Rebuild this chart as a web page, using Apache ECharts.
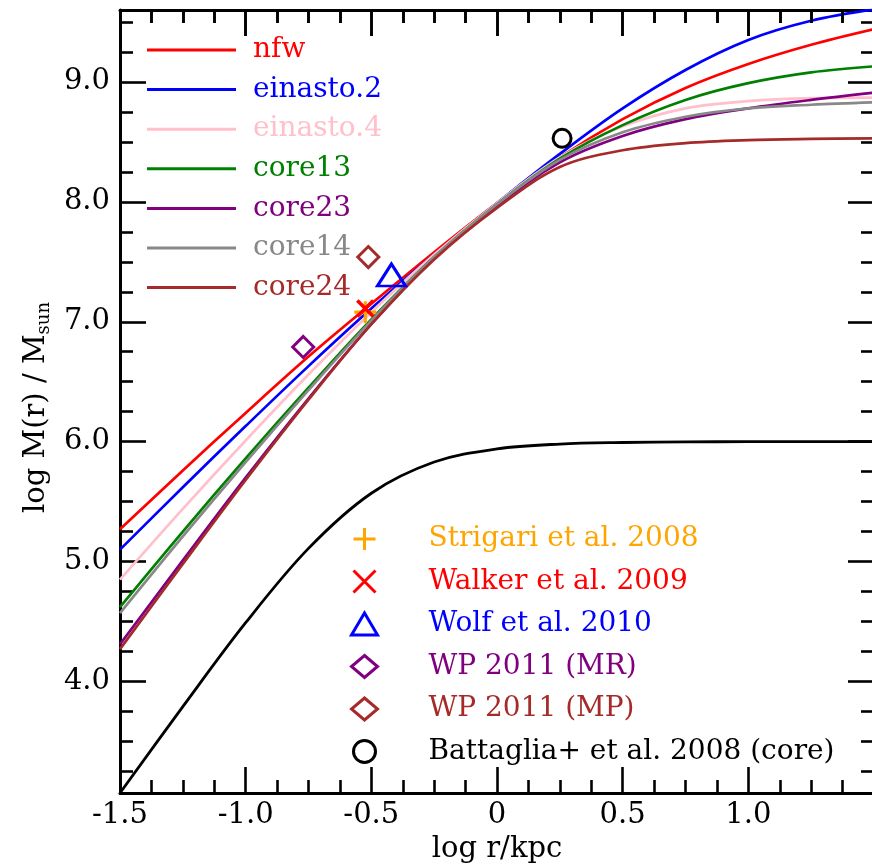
<!DOCTYPE html>
<html>
<head>
<meta charset="utf-8">
<script src="https://cdn.jsdelivr.net/npm/echarts@6/dist/echarts.min.js"></script>
<style>
  html, body { margin: 0; padding: 0; background: #fff; }
  #chart { width: 872px; height: 865px; }
</style>
</head>
<body>
<div id="chart"></div>
<script>
// Sample radii, log r / kpc
const logR = [-1.5, -1.25, -1.0, -0.75, -0.5, -0.25, 0.0, 0.25, 0.5, 0.75, 1.0, 1.25, 1.5];

// Enclosed mass profiles, log M(r) / Msun, one value per radius above
const nfw       = [5.27, 5.76, 6.24, 6.71, 7.15, 7.58, 7.99, 8.37, 8.69, 8.95, 9.15, 9.31, 9.44];
const einasto2  = [5.10, 5.62, 6.13, 6.63, 7.11, 7.56, 7.99, 8.40, 8.78, 9.10, 9.35, 9.51, 9.605];
const einasto4  = [4.85, 5.44, 6.01, 6.56, 7.08, 7.56, 7.99, 8.37, 8.63, 8.78, 8.84, 8.865, 8.87];
const core13    = [4.62, 5.25, 5.86, 6.45, 7.02, 7.54, 7.98, 8.36, 8.64, 8.85, 8.99, 9.08, 9.13];
const core23    = [4.31, 5.01, 5.70, 6.36, 6.98, 7.53, 7.97, 8.33, 8.55, 8.69, 8.78, 8.85, 8.91];
const core14    = [4.57, 5.21, 5.83, 6.43, 7.01, 7.54, 7.98, 8.35, 8.58, 8.71, 8.78, 8.81, 8.83];
const core24    = [4.27, 4.98, 5.68, 6.35, 6.98, 7.52, 7.95, 8.29, 8.43, 8.49, 8.515, 8.525, 8.53];
// Stellar component
const stars     = [3.07, 3.79, 4.49, 5.11, 5.57, 5.83, 5.94, 5.98, 5.993, 5.998, 6.0, 6.0, 6.0];

// Published mass estimates [log r, log M]
const strigari2008  = [[-0.524, 7.08]];
const walker2009    = [[-0.524, 7.11]];
const wolf2010      = [[-0.42, 7.39]];
const wp2011MR      = [[-0.771, 6.79]];
const wp2011MP      = [[-0.512, 7.54]];
const battaglia2008 = [[0.259, 8.53]];

// Axis ranges and tick values
const xRange = { min: -1.5, max: 1.5, interval: 0.5 };
const yRange = { min: 3.07, max: 9.6 };
const xMajor = [-1.0, -0.5, 0, 0.5, 1.0];
const xMinor = [-1.375, -1.25, -1.125, -0.875, -0.75, -0.625, -0.375, -0.25, -0.125,
                0.125, 0.25, 0.375, 0.625, 0.75, 0.875, 1.125, 1.25, 1.375];
const yMajor = [4, 5, 6, 7, 8, 9];
const yMinor = [3.25, 3.5, 3.75, 4.25, 4.5, 4.75, 5.25, 5.5, 5.75, 6.25, 6.5, 6.75,
                7.25, 7.5, 7.75, 8.25, 8.5, 8.75, 9.25, 9.5];

const FONT = 'DejaVu Serif';
const FS = 29;
const PLOT = { left: 120, top: 10, width: 754, height: 783, containLabel: false, outerBoundsMode: 'none' };
const PX_PER_Y = PLOT.height / (yRange.max - yRange.min);

function pairs(ys) { return logR.map((x, i) => [x, ys[i]]); }
function clone(o) { return JSON.parse(JSON.stringify(o)); }

const profiles = [
  { name: 'nfw',       data: nfw,      color: '#ff0000' },
  { name: 'einasto.2', data: einasto2, color: '#0000ff' },
  { name: 'einasto.4', data: einasto4, color: '#ffc0cb' },
  { name: 'core13',    data: core13,   color: '#008000' },
  { name: 'core23',    data: core23,   color: '#800080' },
  { name: 'core14',    data: core14,   color: '#888888' },
  { name: 'core24',    data: core24,   color: '#a52a2a' }
];

const plusPath  = 'path://M0,10 L20,10 M10,0 L10,20';
const crossPath = 'path://M0,0 L10,10 M10,0 L0,10';

const points = [
  { name: 'Strigari et al. 2008', data: strigari2008, color: '#ffa500', symbol: plusPath, size: 22, bw: 3.2 },
  { name: 'Walker et al. 2009', data: walker2009, color: '#ff0000', symbol: crossPath, size: 16, bw: 3.6 },
  { name: 'Wolf et al. 2010', data: wolf2010, color: '#0000ff', symbol: 'triangle', size: [28, 22], bw: 3 },
  { name: 'WP 2011 (MR)', data: wp2011MR, color: '#800080', symbol: 'diamond', size: [21, 21], bw: 3 },
  { name: 'WP 2011 (MP)', data: wp2011MP, color: '#a52a2a', symbol: 'diamond', size: [21, 21], bw: 3 },
  { name: 'Battaglia+ et al. 2008 (core)', data: battaglia2008, color: '#000000', symbol: 'circle', size: 18, bw: 3 }
];

// Short ticks hanging from the top frame edge, as markLine segments in axis units
function topTickSegments(vals, lenPx) {
  const top = yRange.max, bottom = yRange.max - lenPx / PX_PER_Y;
  return vals.map(v => [{ coord: [v, top] }, { coord: [v, bottom] }]);
}

const series = [];
profiles.forEach(p => series.push({
  name: p.name, type: 'line', data: pairs(p.data), smooth: 0.35,
  showSymbol: false, symbol: 'none', z: 3,
  lineStyle: { color: p.color, width: 2.7 }, itemStyle: { color: p.color }
}));
series.push({
  name: 'stars', type: 'line', data: pairs(stars), smooth: 0.35,
  showSymbol: false, symbol: 'none', z: 3,
  lineStyle: { color: '#000', width: 2.8 }, itemStyle: { color: '#000' },
  markLine: {
    silent: true, symbol: ['none', 'none'], animation: false,
    label: { show: false },
    lineStyle: { color: '#000', width: 2.6, type: 'solid' },
    emphasis: { disabled: true },
    data: topTickSegments(xMajor, 26).concat(topTickSegments(xMinor, 13))
  }
});
points.forEach(p => series.push({
  name: p.name, type: 'scatter', data: p.data, symbol: p.symbol, symbolSize: p.size, z: 5,
  itemStyle: { color: 'rgba(0,0,0,0)', borderColor: p.color, borderWidth: p.bw, opacity: 1 }
}));

const LINE = { color: '#000', width: 2.6 };

function xAxisDef(pos, labels) {
  return {
    type: 'value', gridIndex: 0, position: pos,
    min: xRange.min, max: xRange.max, interval: xRange.interval,
    axisLine: { show: true, onZero: false, lineStyle: { color: '#000', width: 3 } },
    axisTick: { show: true, inside: true, length: 26, lineStyle: clone(LINE) },
    minorTick: { show: true, splitNumber: 4, length: 13, lineStyle: clone(LINE) },
    splitLine: { show: false }, minorSplitLine: { show: false },
    axisLabel: {
      show: labels, fontFamily: FONT, fontSize: FS, margin: 8, color: '#000',
      formatter: v => (Math.abs(v) < 1e-9 ? '0' : v.toFixed(1)),
      showMaxLabel: false
    },
    name: labels ? 'log r/kpc' : '', nameLocation: 'middle', nameGap: 42,
    nameTextStyle: { fontFamily: FONT, fontSize: FS, color: '#000' }
  };
}
function yAxisDef(pos, labels) {
  return {
    type: 'value', gridIndex: 0, position: pos, min: yRange.min, max: yRange.max,
    axisLine: { show: true, onZero: false, lineStyle: { color: '#000', width: 3 } },
    axisTick: { show: true, inside: true, length: 26, customValues: yMajor, lineStyle: clone(LINE) },
    minorTick: { show: false },
    splitLine: { show: false }, minorSplitLine: { show: false },
    axisLabel: {
      show: labels, fontFamily: FONT, fontSize: FS, color: '#000', margin: 10,
      customValues: yMajor, formatter: v => v.toFixed(1)
    },
    name: labels ? '{a|log M(r) / M}{s|sun}' : '', nameLocation: 'middle', nameGap: 66,
    nameTextStyle: {
      fontFamily: FONT, color: '#000', padding: [0, 12, 0, 0],
      rich: {
        a: { fontFamily: FONT, fontSize: FS, color: '#000', lineHeight: 36 },
        s: { fontFamily: FONT, fontSize: 18, color: '#000', lineHeight: 36, padding: [16, 0, 0, 0] }
      }
    }
  };
}
// Companion axes that carry the short 0.25 ticks on the left and right frame edges
function yMinorAxis(pos) {
  return {
    type: 'value', gridIndex: 0, position: pos, min: yRange.min, max: yRange.max,
    axisLine: { show: false, onZero: false }, axisLabel: { show: false }, splitLine: { show: false },
    axisTick: { show: true, inside: true, length: 13, customValues: yMinor, lineStyle: clone(LINE) }
  };
}

const chart = echarts.init(document.getElementById('chart'), null, { renderer: 'canvas' });
chart.setOption({
  backgroundColor: '#fff',
  animation: false,
  grid: [clone(PLOT)],
  xAxis: [xAxisDef('bottom', true), xAxisDef('top', false)],
  yAxis: [yAxisDef('left', true), yAxisDef('right', false), yMinorAxis('left'), yMinorAxis('right')],
  legend: [
    {
      orient: 'vertical', left: 147, top: 34, padding: 0, itemWidth: 89, itemHeight: 3, itemGap: 7.6,
      icon: 'rect', selectedMode: false,
      textStyle: { fontFamily: FONT, fontSize: 28, lineHeight: 32, padding: [0, 0, 0, 12] },
      data: profiles.map(p => ({ name: p.name, textStyle: { color: p.color } }))
    },
    {
      orient: 'vertical', left: 350, top: 523, padding: 0, itemWidth: 26, itemHeight: 22, itemGap: 10.5,
      selectedMode: false,
      textStyle: { fontFamily: FONT, fontSize: 28, lineHeight: 32, padding: [0, 0, 0, 46] },
      data: points.map(p => ({
        name: p.name, textStyle: { color: p.color },
        itemStyle: { color: 'rgba(0,0,0,0)', borderColor: p.color, borderWidth: 3, opacity: 1 }
      }))
    }
  ],
  series: series
});
</script>
</body>
</html>
